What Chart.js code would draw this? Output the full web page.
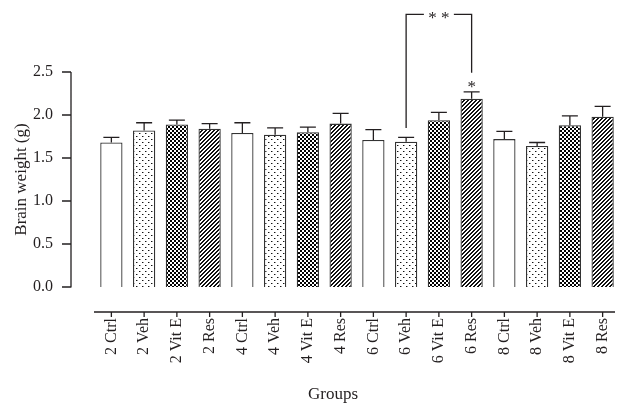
<!DOCTYPE html>
<html>
<head>
<meta charset="utf-8">
<script src="https://cdn.jsdelivr.net/npm/chart.js@4.4.1/dist/chart.umd.min.js"></script>
<style>
  html, body { margin: 0; padding: 0; background: #fff; }
  #wrap { width: 631px; height: 413px; position: relative; }
</style>
</head>
<body>
<div id="wrap"><canvas id="chart"></canvas></div>
<script>
const groups = ['2 Ctrl', '2 Veh', '2 Vit E', '2 Res', '4 Ctrl', '4 Veh', '4 Vit E', '4 Res',
                '6 Ctrl', '6 Veh', '6 Vit E', '6 Res', '8 Ctrl', '8 Veh', '8 Vit E', '8 Res'];
const treatments = ['Ctrl', 'Veh', 'Vit E', 'Res', 'Ctrl', 'Veh', 'Vit E', 'Res',
                    'Ctrl', 'Veh', 'Vit E', 'Res', 'Ctrl', 'Veh', 'Vit E', 'Res'];
const means = [1.68, 1.82, 1.89, 1.84, 1.79, 1.77, 1.80, 1.90, 1.71, 1.69, 1.94, 2.19, 1.72, 1.64, 1.88, 1.98];
const errors = [0.06, 0.09, 0.05, 0.06, 0.12, 0.08, 0.06, 0.12, 0.12, 0.05, 0.09, 0.08, 0.09, 0.04, 0.11, 0.12];
const yTicks = [0, 0.5, 1.0, 1.5, 2.0, 2.5];

// significance marks (value units)
const bracketFrom = 9, bracketTo = 11;
const bracketTop = 3.17, bracketLeftEnd = 1.85, bracketRightEnd = 2.49;
const starIndex = 11, starValue = 2.37;

const ink = '#231f20';
const serif = "'Liberation Serif', 'DejaVu Serif', serif";

function makePattern(kind) {
    const c = document.createElement('canvas');
    const g = c.getContext('2d');
    if (kind === 'Ctrl') return '#ffffff';
    if (kind === 'Veh') {
        c.width = 6; c.height = 6;
        g.fillStyle = '#fff'; g.fillRect(0, 0, 6, 6);
        g.fillStyle = '#111';
        g.fillRect(1, 1, 1, 1);
        g.fillRect(4, 4, 1, 1);
        g.fillStyle = '#999';
        g.fillRect(2, 1, 1, 1);
        g.fillRect(5, 4, 1, 1);
    } else if (kind === 'Vit E') {
        c.width = 4; c.height = 4;
        g.fillStyle = '#000'; g.fillRect(0, 0, 4, 4);
        g.fillStyle = '#fff';
        g.fillRect(0, 0, 2, 2);
        g.fillRect(2, 2, 2, 2);
    } else {
        c.width = 4; c.height = 4;
        g.fillStyle = '#fff'; g.fillRect(0, 0, 4, 4);
        g.fillStyle = '#111';
        for (let i = 0; i < 4; i++) {
            g.fillRect(i, 3 - i, 1, 1);
            g.fillRect((i + 1) % 4, 3 - i, 1, 1);
        }
    }
    return g.createPattern(c, 'repeat');
}

const fills = treatments.map(makePattern);

const extras = {
    id: 'extras',
    afterDatasetsDraw(chart) {
        const { ctx, chartArea: a, scales: { x, y } } = chart;
        ctx.save();
        ctx.strokeStyle = ink;
        ctx.lineWidth = 1.3;
        ctx.beginPath();

        // detached y axis
        const yx = a.left - 24;
        ctx.moveTo(yx, y.getPixelForValue(0) + 0.5);
        ctx.lineTo(yx, y.getPixelForValue(2.5));
        yTicks.forEach(v => {
            const py = y.getPixelForValue(v);
            ctx.moveTo(yx - 9, py);
            ctx.lineTo(yx, py);
        });

        // detached x axis
        const xy = a.bottom + 25;
        ctx.moveTo(a.left - 1, xy);
        ctx.lineTo(a.right - 4, xy);
        groups.forEach((g, i) => {
            const px = x.getPixelForValue(i);
            ctx.moveTo(px, xy);
            ctx.lineTo(px, xy + 5);
        });

        // error bars (upper only)
        chart.getDatasetMeta(0).data.forEach((bar, i) => {
            const top = y.getPixelForValue(means[i] + errors[i]);
            ctx.moveTo(bar.x, bar.y);
            ctx.lineTo(bar.x, top);
            ctx.moveTo(bar.x - 8, top);
            ctx.lineTo(bar.x + 8, top);
        });
        ctx.stroke();

        // bracket
        const bx1 = x.getPixelForValue(bracketFrom);
        const bx2 = x.getPixelForValue(bracketTo);
        const by = y.getPixelForValue(bracketTop);
        const mid = (bx1 + bx2) / 2;
        ctx.beginPath();
        ctx.moveTo(bx1, y.getPixelForValue(bracketLeftEnd));
        ctx.lineTo(bx1, by);
        ctx.lineTo(mid - 15, by);
        ctx.moveTo(mid + 15, by);
        ctx.lineTo(bx2, by);
        ctx.lineTo(bx2, y.getPixelForValue(bracketRightEnd));
        ctx.stroke();

        ctx.fillStyle = ink;
        ctx.font = '17px ' + serif;
        ctx.textAlign = 'center';
        ctx.textBaseline = 'middle';
        ctx.fillText('* *', mid, by + 4);
        ctx.fillText('*', x.getPixelForValue(starIndex), y.getPixelForValue(starValue) + 4);

        // x axis title, centred under the whole plot frame
        ctx.fillText('Groups', (yx + a.right - 24) / 2, chart.height - 18);
        ctx.restore();
    }
};

new Chart(document.getElementById('chart'), {
    type: 'bar',
    data: {
        labels: groups,
        datasets: [{
            data: means,
            backgroundColor: fills,
            borderColor: '#333',
            borderWidth: 1.3,
            barPercentage: 0.68,
            categoryPercentage: 1.0
        }]
    },
    options: {
        responsive: true,
        maintainAspectRatio: false,
        animation: false,
        layout: { padding: { top: 72, right: 12, left: 0, bottom: 0 } },
        plugins: { legend: { display: false }, tooltip: { enabled: false } },
        scales: {
            x: {
                // invisible tick marks provide the gap down to the labels
                grid: { display: true, drawOnChartArea: false, drawTicks: true, tickLength: 31, color: 'rgba(0,0,0,0)' },
                border: { display: false },
                ticks: {
                    minRotation: 90, maxRotation: 90, autoSkip: false, padding: 0,
                    color: ink, font: { family: serif, size: 16 }
                },
                afterFit(s) { s.height = 126; }
            },
            y: {
                min: 0, max: 2.5,
                grid: { display: false, drawTicks: false },
                border: { display: false },
                afterBuildTicks(s) { s.ticks = yTicks.map(v => ({ value: v })); },
                ticks: {
                    padding: 42, color: ink, font: { family: serif, size: 16 },
                    callback: v => Number(v).toFixed(1)
                },
                title: {
                    display: true, text: 'Brain weight (g)', color: ink,
                    font: { family: serif, size: 17 }, padding: { top: 11, bottom: 0 }
                },
                afterFit(s) { s.width = 95; }
            }
        }
    },
    plugins: [extras]
});
</script>
</body>
</html>
